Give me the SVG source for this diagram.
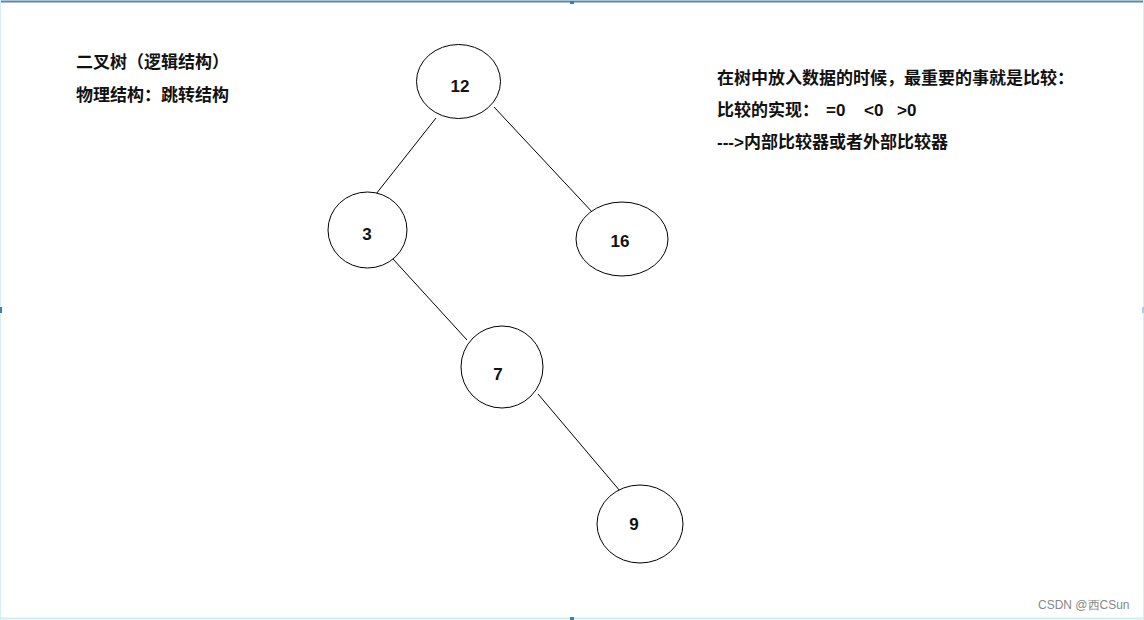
<svg xmlns="http://www.w3.org/2000/svg" width="1144" height="620" viewBox="0 0 1144 620">
<style>
.n{fill:#fff;stroke:#000;stroke-width:1}
.c{stroke:#000;stroke-width:1;fill:none}
.t{font-family:"Liberation Sans","Noto Sans CJK SC",sans-serif;font-weight:bold;font-size:17px;fill:#111}
.num{font-family:"Liberation Sans",sans-serif;font-weight:bold;font-size:17px;fill:#111;text-anchor:middle}
.h{fill:#3d7fb0}
</style>
<rect x="0" y="0" width="1144" height="620" fill="#fff"/>
<line x1="0" y1="1.5" x2="1144" y2="1.5" stroke="#5a87a8" stroke-width="2"/>
<line x1="0.5" y1="0" x2="0.5" y2="620" stroke="#d6eef5" stroke-width="1"/>
<line x1="1143.5" y1="0" x2="1143.5" y2="620" stroke="#d6eef5" stroke-width="1"/>
<line x1="0" y1="618.5" x2="1144" y2="618.5" stroke="#cdeef5" stroke-width="2"/>
<rect class="h" x="570" y="1" width="4" height="3"/>
<rect class="h" x="0" y="307" width="2" height="6"/>
<rect x="1142" y="307" width="2" height="6" fill="#a8d0e6"/>
<rect class="h" x="570" y="617" width="4" height="3"/>
<g id="connectors">
<line class="c" x1="436" y1="118" x2="376" y2="194"/>
<line class="c" x1="494" y1="107" x2="594" y2="214"/>
<line class="c" x1="393" y1="259" x2="467" y2="340"/>
<line class="c" x1="538" y1="394" x2="620" y2="491"/>
</g>
<g id="n12"><ellipse class="n" cx="458.5" cy="81.5" rx="42" ry="37"/><text class="num" x="460" y="92">12</text></g>
<g id="n3"><ellipse class="n" cx="367.5" cy="230" rx="39.5" ry="38"/><text class="num" x="367" y="240">3</text></g>
<g id="n16"><ellipse class="n" cx="622" cy="239" rx="46" ry="37"/><text class="num" x="620" y="247">16</text></g>
<g id="n7"><ellipse class="n" cx="502" cy="367" rx="41" ry="41"/><text class="num" x="498" y="380">7</text></g>
<g id="n9"><ellipse class="n" cx="640" cy="524" rx="43" ry="39"/><text class="num" x="634" y="530">9</text></g>
<g id="notes-left">
<text class="t" x="76" y="68">二叉树（逻辑结构）</text>
<text class="t" x="76" y="101">物理结构：跳转结构</text>
</g>
<g id="notes-right">
<text class="t" x="717" y="84">在树中放入数据的时候，最重要的事就是比较：</text>
<text class="t" y="116"><tspan x="717">比较的实现：</tspan><tspan x="826">=0</tspan><tspan x="864">&lt;0</tspan><tspan x="897">&gt;0</tspan></text>
<text class="t" x="717" y="148">---&gt;内部比较器或者外部比较器</text>
</g>
<text x="1038" y="609" font-family="Liberation Sans,sans-serif" font-size="12" fill="#888">CSDN @西CSun</text>
</svg>
